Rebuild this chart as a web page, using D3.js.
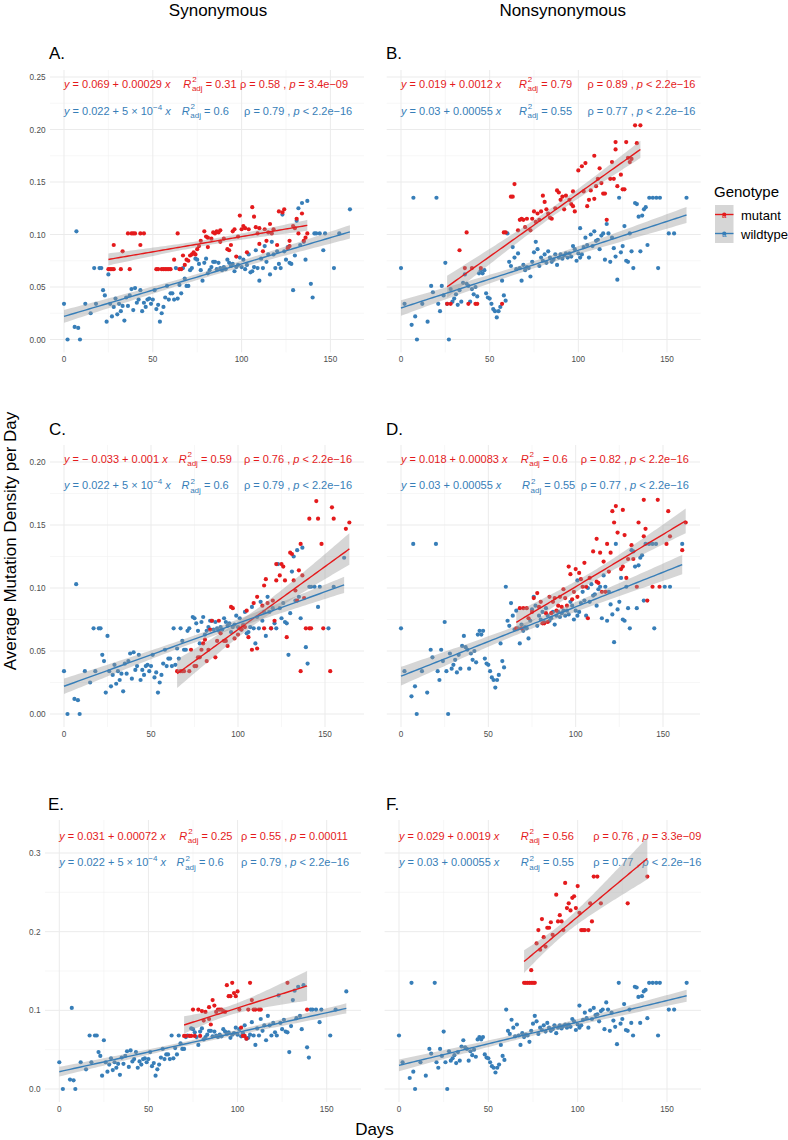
<!DOCTYPE html>
<html><head><meta charset="utf-8">
<script src="https://cdn.jsdelivr.net/npm/d3@7"></script>
<style>body{margin:0;background:#fff} text{font-family:"Liberation Sans",Arial,Helvetica,sans-serif}</style>
</head><body><svg id="c" width="788" height="1140"></svg>
<script>
// ---------------- DATA ----------------
const panelIds = ["A.","B.","C.","D.","E.","F."];
const columnTitles = ["Synonymous","Nonsynonymous"];
const genotypes = ["mutant","wildtype"];
const xTicks = [0,50,100,150];
const xTickLabels = ["0","50","100","150"];
const yTicksRow1 = [0,0.05,0.10,0.15,0.20,0.25];
const yTickLabelsRow1 = ["0.00","0.05","0.10","0.15","0.20","0.25"];
const yTicksRow2 = [0,0.05,0.10,0.15,0.20];
const yTickLabelsRow2 = ["0.00","0.05","0.10","0.15","0.20"];
const yTicksRow3 = [0,0.1,0.2,0.3];
const yTickLabelsRow3 = ["0.0","0.1","0.2","0.3"];

const synWildtype = [[0,0.034],[2,0],[6,0.012],[7,0.103],[8,0.011],[9,0],[12,0.034],[15,0.025],[17,0.068],[18,0.034],[20,0.068],[21,0.068],[22,0.047],[23,0.042],[24,0.017],[25,0.062],[26,0.034],[27,0.022],[28,0.031],[29,0.039],[30,0.024],[31,0.034],[32,0.027],[33,0.032],[34,0.018],[35,0.040],[36,0.032],[37,0.042],[38,0.048],[39,0.028],[40,0.049],[41,0.035],[42,0.038],[43,0.047],[44,0.027],[45,0.035],[46,0.031],[47,0.038],[48,0.039],[49,0.034],[50,0.038],[51,0.047],[52,0.029],[53,0.033],[54,0.017],[55,0.025],[56,0.031],[57,0.040],[58,0.051],[59,0.038],[60,0.044],[61,0.044],[62,0.038],[63,0.068],[64,0.039],[65,0.052],[66,0.044],[67,0.068],[68,0.058],[69,0.051],[70,0.051],[71,0.066],[72,0.068],[74,0.077],[75,0.076],[76,0.072],[77,0.066],[78,0.056],[79,0.073],[80,0.077],[81,0.063],[82,0.066],[83,0.069],[84,0.074],[85,0.074],[86,0.067],[87,0.073],[88,0.068],[89,0.066],[90,0.069],[91,0.067],[92,0.076],[93,0.073],[94,0.070],[95,0.072],[96,0.065],[97,0.069],[98,0.071],[99,0.078],[100,0.069],[101,0.076],[102,0.067],[103,0.071],[104,0.081],[105,0.064],[106,0.065],[107,0.069],[108,0.085],[109,0.068],[110,0.056],[111,0.077],[112,0.068],[113,0.089],[114,0.074],[115,0.081],[116,0.062],[117,0.093],[118,0.081],[119,0.068],[120,0.084],[121,0.072],[122,0.068],[123,0.119],[124,0.084],[125,0.076],[126,0.088],[127,0.073],[128,0.072],[129,0.047],[130,0.080],[131,0.113],[132,0.125],[133,0.090],[134,0.130],[135,0.093],[136,0.076],[137,0.132],[139,0.053],[140,0.040],[141,0.101],[142,0.101],[144,0.101],[146,0.085],[147,0.101],[152,0.068],[155,0.101],[161,0.124]];

const nonsynWildtype = [[0,0.068],[2,0.034],[6,0.014],[7,0.135],[8,0.022],[9,0],[12,0.034],[15,0.017],[17,0.051],[18,0.045],[20,0.135],[21,0.034],[22,0.027],[23,0.051],[24,0.042],[25,0.073],[26,0.034],[27,0],[28,0.048],[29,0.036],[30,0.039],[31,0.043],[32,0.033],[33,0.047],[34,0.036],[35,0.054],[36,0.062],[37,0.053],[38,0.051],[39,0.036],[40,0.048],[41,0.043],[42,0.050],[43,0.041],[44,0.063],[45,0.066],[46,0.063],[47,0.066],[48,0.044],[49,0.040],[50,0.039],[51,0.034],[52,0.029],[53,0.027],[54,0.021],[55,0.027],[56,0.031],[57,0.056],[58,0.042],[59,0.037],[60,0.101],[61,0.074],[62,0.070],[63,0.088],[64,0.078],[65,0.067],[66,0.082],[67,0.068],[68,0.056],[69,0.071],[70,0.066],[71,0.069],[72,0.068],[73,0.060],[74,0.074],[75,0.083],[76,0.093],[77,0.086],[78,0.070],[79,0.078],[80,0.075],[81,0.081],[82,0.073],[83,0.084],[84,0.078],[85,0.074],[86,0.076],[87,0.081],[88,0.071],[89,0.078],[90,0.081],[91,0.077],[92,0.080],[93,0.082],[94,0.078],[95,0.082],[96,0.079],[97,0.089],[98,0.086],[99,0.075],[100,0.082],[101,0.106],[101,0.078],[102,0.081],[103,0.088],[104,0.097],[105,0.090],[106,0.078],[107,0.100],[108,0.089],[109,0.103],[110,0.094],[111,0.095],[112,0.086],[113,0.099],[114,0.101],[115,0.076],[116,0.110],[117,0.101],[118,0.074],[119,0.097],[120,0.087],[121,0.079],[122,0.057],[123,0.135],[124,0.083],[125,0.089],[126,0.108],[127,0.075],[128,0.074],[129,0.101],[130,0.084],[131,0.068],[132,0.130],[133,0.129],[134,0.117],[135,0.084],[136,0.118],[137,0.124],[138,0.126],[139,0.090],[140,0.135],[142,0.135],[144,0.135],[145,0.068],[146,0.135],[151,0.101],[154,0.101],[161,0.135]];

const mutantA = [[25,0.067],[26,0.067],[27,0.067],[28,0.090],[28,0.067],[32,0.067],[33,0.084],[36,0.101],[37,0.067],[38,0.101],[39,0.101],[40,0.101],[43,0.090],[43,0.101],[45,0.101],[52,0.067],[53,0.067],[55,0.067],[56,0.067],[57,0.067],[58,0.067],[59,0.067],[60,0.067],[62,0.076],[64,0.101],[65,0.067],[66,0.067],[67,0.080],[68,0.071],[69,0.076],[70,0.075],[71,0.080],[72,0.081],[73,0.083],[74,0.081],[75,0.086],[76,0.089],[77,0.094],[79,0.103],[80,0.098],[81,0.097],[81,0.088],[83,0.096],[84,0.102],[85,0.101],[86,0.103],[87,0.102],[88,0.104],[88,0.093],[90,0.096],[92,0.086],[93,0.085],[94,0.090],[95,0.103],[96,0.105],[97,0.079],[98,0.098],[99,0.118],[100,0.105],[101,0.108],[102,0.106],[103,0.083],[104,0.105],[106,0.126],[107,0.117],[108,0.107],[109,0.101],[110,0.106],[110,0.091],[112,0.084],[113,0.105],[114,0.094],[115,0.102],[116,0.110],[117,0.101],[118,0.105],[120,0.090],[121,0.122],[123,0.121],[124,0.124],[126,0.087],[127,0.089],[127,0.094],[129,0.108],[130,0.106],[131,0.115],[132,0.101],[134,0.120],[135,0.094],[136,0.097],[137,0.101]];

const mutantB = [[26,0.034],[28,0.034],[33,0.085],[36,0.068],[37,0.102],[38,0.034],[40,0.068],[42,0.034],[43,0.034],[45,0.068],[57,0.034],[58,0.102],[59,0.102],[62,0.136],[63,0.136],[64,0.148],[66,0.104],[67,0.114],[68,0.115],[69,0.114],[70,0.107],[71,0.115],[73,0.104],[74,0.115],[75,0.122],[76,0.112],[77,0.120],[78,0.114],[79,0.122],[80,0.137],[81,0.131],[82,0.124],[83,0.120],[84,0.116],[85,0.115],[87,0.125],[88,0.142],[89,0.140],[90,0.133],[91,0.136],[92,0.124],[93,0.137],[95,0.133],[96,0.129],[97,0.127],[97,0.141],[98,0.122],[100,0.161],[102,0.165],[103,0.141],[104,0.168],[105,0.127],[106,0.133],[107,0.142],[109,0.134],[109,0.175],[110,0.146],[111,0.153],[112,0.163],[113,0.149],[114,0.139],[115,0.139],[116,0.114],[118,0.153],[119,0.169],[120,0.153],[121,0.181],[121,0.188],[122,0.146],[124,0.157],[125,0.143],[126,0.143],[127,0.188],[128,0.173],[129,0.169],[130,0.172],[132,0.204],[133,0.187],[135,0.204]];

const mutantC = [[65,0.034],[67,0.034],[68,0.034],[69,0.034],[72,0.034],[73,0.051],[75,0.038],[76,0.038],[77,0.045],[78,0.045],[79,0.051],[80,0.056],[81,0.059],[82,0.042],[83,0.051],[84,0.067],[85,0.074],[87,0.045],[88,0.058],[89,0.074],[90,0.064],[92,0.058],[93,0.058],[94,0.054],[96,0.085],[97,0.084],[98,0.060],[100,0.063],[101,0.068],[102,0.067],[103,0.070],[104,0.069],[105,0.082],[106,0.061],[108,0.051],[109,0.088],[111,0.052],[111,0.093],[114,0.086],[115,0.068],[115,0.102],[116,0.107],[117,0.088],[119,0.068],[120,0.090],[121,0.074],[122,0.119],[122,0.106],[124,0.110],[125,0.119],[126,0.117],[127,0.106],[128,0.061],[130,0.128],[131,0.127],[132,0.106],[133,0.098],[134,0.090],[135,0.114],[136,0.034],[136,0.135],[137,0.110],[138,0.092],[139,0.068],[141,0.068],[142,0.068],[148,0.135],[149,0.068],[153,0.034],[141,0.155],[145,0.169],[146,0.155],[154,0.164],[155,0.155],[162,0.147],[164,0.152]];

const mutantD = [[66,0.068],[68,0.084],[69,0.068],[70,0.084],[72,0.084],[73,0.076],[75,0.081],[76,0.092],[78,0.096],[79,0.085],[80,0.089],[81,0.072],[82,0.072],[83,0.080],[84,0.073],[85,0.093],[86,0.080],[87,0.089],[88,0.092],[89,0.082],[90,0.086],[91,0.093],[92,0.085],[93,0.099],[94,0.092],[95,0.086],[96,0.117],[97,0.111],[98,0.091],[99,0.097],[100,0.115],[101,0.093],[102,0.112],[103,0.107],[104,0.101],[105,0.120],[106,0.101],[107,0.076],[108,0.108],[110,0.129],[112,0.139],[112,0.105],[113,0.104],[114,0.128],[115,0.097],[116,0.121],[117,0.097],[118,0.135],[119,0.113],[120,0.128],[121,0.161],[122,0.152],[123,0.165],[124,0.144],[126,0.115],[127,0.117],[127,0.162],[128,0.142],[129,0.108],[130,0.123],[132,0.134],[133,0.123],[135,0.101],[136,0.152],[139,0.170],[139,0.141],[140,0.147],[141,0.090],[144,0.101],[147,0.170],[148,0.101],[152,0.135],[153,0.161],[154,0.141],[161,0.130],[163,0.152]];

const mutantE = [[70,0.0675],[71,0.0675],[73,0.0675],[74,0.0675],[75,0.101],[76,0.0675],[78,0.101],[79,0.0675],[80,0.099],[81,0.087],[82,0.098],[84,0.089],[84,0.104],[85,0.082],[86,0.113],[87,0.106],[88,0.098],[89,0.101],[90,0.101],[91,0.101],[92,0.099],[93,0.098],[94,0.132],[95,0.118],[96,0.118],[97,0.135],[98,0.122],[99,0.118],[100,0.124],[101,0.101],[102,0.078],[103,0.0675],[104,0.0675],[105,0.064],[106,0.101],[107,0.135],[108,0.113],[109,0.101],[110,0.101],[112,0.101],[113,0.101],[128,0.135],[139,0.101]];

const mutantF = [[70,0.135],[71,0.135],[72,0.135],[73,0.135],[74,0.135],[75,0.135],[76,0.135],[74,0.151],[77,0.185],[79,0.177],[82,0.181],[78,0.202],[80,0.216],[81,0.193],[83,0.205],[84,0.205],[85,0.212],[86,0.196],[88,0.247],[89,0.213],[90,0.221],[91,0.213],[92,0.202],[93,0.262],[94,0.230],[95,0.236],[96,0.227],[97,0.243],[98,0.245],[99,0.230],[100,0.258],[101,0.224],[102,0.202],[103,0.202],[104,0.202],[106,0.202],[107,0.236],[108,0.213],[109,0.270],[111,0.270],[113,0.236],[128,0.236],[139,0.270]];

const mutantData = [mutantA, mutantB, mutantC, mutantD, mutantE, mutantF];
const wildData = [synWildtype, nonsynWildtype, synWildtype, nonsynWildtype, synWildtype, nonsynWildtype];

// fitted coefficients printed in the chart
const mutantIntercept = [0.069, 0.019, -0.033, 0.018, 0.031, 0.029];
const mutantSlope = [0.00029, 0.0012, 0.001, 0.00083, 0.00072, 0.0019];
const wildIntercept = [0.022, 0.03, 0.022, 0.03, 0.022, 0.03];
const wildSlope = [0.0005, 0.00055, 0.0005, 0.00055, 0.0005, 0.00055];

// label texts
const mutantEqText = ["0.069 + 0.00029","0.019 + 0.0012","− 0.033 + 0.001","0.018 + 0.00083","0.031 + 0.00072","0.029 + 0.0019"];
const mutantEqExp = ["","","","","",""];
const wildEqText = ["0.022 + 5 × 10","0.03 + 0.00055","0.022 + 5 × 10","0.03 + 0.00055","0.022 + 5 × 10","0.03 + 0.00055"];
const wildEqExp = ["−4","","−4","","−4",""];
const mutantR2 = ["0.31","0.79","0.59","0.6","0.25","0.56"];
const wildR2 = ["0.6","0.55","0.6","0.55","0.6","0.55"];
const mutantRho = ["0.58","0.89","0.76","0.82","0.55","0.76"];
const wildRho = ["0.79","0.77","0.79","0.77","0.79","0.77"];
const mutantP = ["= 3.4e−09","< 2.2e−16","< 2.2e−16","< 2.2e−16","= 0.00011","= 3.3e−09"];
const wildP = ["< 2.2e−16","< 2.2e−16","< 2.2e−16","< 2.2e−16","< 2.2e−16","< 2.2e−16"];
// label anchor positions (data units: days / density)
const mutantLabelY = [0.2395, 0.2395, 0.1994, 0.1994, 0.3169, 0.3169];
const wildLabelY = [0.2138, 0.2138, 0.1783, 0.1783, 0.283, 0.283];
const mutantR2X = [67.2, 66.5, 65.9, 68.5, 67.3, 68.1];
const wildR2X = [66.3, 66.5, 67.6, 69.3, 65.8, 68.1];
const mutantCorX = [99.1, 105.1, 103.4, 102.9, 101.9, 108.7];
const wildCorX = [101.4, 105.1, 103.4, 102.9, 101.9, 108.7];

// ---------------- LAYOUT ----------------
const RED = "#E41A1C", BLUE = "#377EB8";
const layout = [
  {x0:64,   x150:330.4, left:50,    right:364,   y0:339.5, yv:0.25, yp:77,  top:70,  bottom:352.4, ticks:yTicksRow1, tl:yTickLabelsRow1, minor:0.025, lab:[49,59]},
  {x0:401,  x150:667,   left:386.7, right:700.7, y0:339.5, yv:0.25, yp:77,  top:70,  bottom:352.4, ticks:yTicksRow1, tl:null, minor:0.025, lab:[386,59]},
  {x0:64,   x150:325,   left:50,    right:364,   y0:714,   yv:0.2,  yp:462, top:445, bottom:727,   ticks:yTicksRow2, tl:yTickLabelsRow2, minor:0.025, lab:[49,435]},
  {x0:401,  x150:663,   left:386.8, right:700,   y0:714,   yv:0.2,  yp:462, top:445, bottom:727,   ticks:yTicksRow2, tl:null, minor:0.025, lab:[386,435]},
  {x0:59.3, x150:326.7, left:45,    right:361,   y0:1089,  yv:0.3,  yp:853, top:820, bottom:1102,  ticks:yTicksRow3, tl:yTickLabelsRow3, minor:0.05, lab:[48,810]},
  {x0:399,  x150:667,   left:384.6, right:701,   y0:1089,  yv:0.3,  yp:853, top:820, bottom:1102,  ticks:yTicksRow3, tl:null, minor:0.05, lab:[386,810]}
];

const svg = d3.select("#c");
svg.append("rect").attr("width",788).attr("height",1140).attr("fill","#fff");

function tq(df){ return 1.95996 + 2.3722/df + 2.8224/(df*df); }
function band(data, a, b){
  const n = data.length, xs = data.map(d=>d[0]);
  const xbar = d3.mean(xs), sxx = d3.sum(xs, x=>(x-xbar)**2);
  const sse = d3.sum(data, d => (d[1]-(a+b*d[0]))**2);
  const s = Math.sqrt(sse/(n-2)), t = tq(n-2);
  const [lo,hi] = d3.extent(xs);
  return d3.range(0,81).map(i => {
    const x = lo + (hi-lo)*i/80, f = a+b*x;
    const se = s*Math.sqrt(1/n + (x-xbar)**2/sxx);
    return {x, f, lo:f-t*se, hi:f+t*se};
  });
}

function drawSegs(g, x, y, segs, color){
  let cx = x;
  segs.forEach(s => {
    if (s.stack){
      const r = g.append("text").attr("x",cx).attr("y",y).attr("font-size",11).attr("font-style","italic").attr("fill",color).text("R");
      cx += r.node().getComputedTextLength() + 0.6;
      const a = g.append("text").attr("x",cx+0.3).attr("y",y-5.6).attr("font-size",8).attr("fill",color).text("2");
      const b = g.append("text").attr("x",cx).attr("y",y+3.2).attr("font-size",8).attr("fill",color).text("adj");
      cx += Math.max(a.node().getComputedTextLength(), b.node().getComputedTextLength());
    } else if (s.sup){
      const a = g.append("text").attr("x",cx).attr("y",y-5).attr("font-size",8).attr("fill",color).text(s.t);
      cx += a.node().getComputedTextLength();
    } else {
      const t = g.append("text").attr("x",cx).attr("y",y).attr("font-size",11).attr("fill",color)
        .attr("font-style", s.i ? "italic" : null).style("white-space","pre").text(s.t);
      cx += t.node().getComputedTextLength();
    }
  });
}

// column titles
svg.append("text").attr("x",218).attr("y",15.5).attr("text-anchor","middle").attr("font-size",17).attr("fill","#000").text(columnTitles[0]);
svg.append("text").attr("x",562.7).attr("y",15.5).attr("text-anchor","middle").attr("font-size",17).attr("fill","#000").text(columnTitles[1]);

layout.forEach((L, k) => {
  const g = svg.append("g");
  const x = d3.scaleLinear().domain([0,150]).range([L.x0, L.x150]);
  const y = d3.scaleLinear().domain([0,L.yv]).range([L.y0, L.yp]);
  const xmin = x.invert(L.left), xmax = x.invert(L.right);
  const ymin = y.invert(L.bottom), ymax = y.invert(L.top);
  // minor grid
  const xMinor = d3.range(-25, 200, 50).filter(v => v > xmin && v < xmax);
  const yMinor = d3.range(-L.minor, ymax, 2*L.minor).filter(v => v > ymin && v < ymax);
  g.selectAll(".xm").data(xMinor).join("line").attr("x1",d=>x(d)).attr("x2",d=>x(d)).attr("y1",L.top).attr("y2",L.bottom).attr("stroke","#F2F2F2").attr("stroke-width",0.6);
  g.selectAll(".ym").data(yMinor).join("line").attr("x1",L.left).attr("x2",L.right).attr("y1",d=>y(d)).attr("y2",d=>y(d)).attr("stroke","#F2F2F2").attr("stroke-width",0.6);
  // major grid
  g.selectAll(".xM").data(xTicks).join("line").attr("x1",d=>x(d)).attr("x2",d=>x(d)).attr("y1",L.top).attr("y2",L.bottom).attr("stroke","#EBEBEB").attr("stroke-width",1);
  g.selectAll(".yM").data(L.ticks).join("line").attr("x1",L.left).attr("x2",L.right).attr("y1",d=>y(d)).attr("y2",d=>y(d)).attr("stroke","#EBEBEB").attr("stroke-width",1);
  // tick labels
  g.selectAll(".xt").data(xTicks).join("text").attr("x",d=>x(d)).attr("y",L.bottom+10).attr("text-anchor","middle").attr("font-size",8.2).attr("fill","#4D4D4D").text((d,i)=>xTickLabels[i]);
  if (L.tl) g.selectAll(".yt").data(L.ticks).join("text").attr("x",L.left-4.5).attr("y",d=>y(d)+3).attr("text-anchor","end").attr("font-size",8.2).attr("fill","#4D4D4D").text((d,i)=>L.tl[i]);
  // panel letter
  svg.append("text").attr("x",L.lab[0]).attr("y",L.lab[1]).attr("font-size",17).attr("fill","#000").text(panelIds[k]);
  // points
  g.selectAll(".pw").data(wildData[k]).join("circle").attr("cx",d=>x(d[0])).attr("cy",d=>y(d[1])).attr("r",2.1).attr("fill",BLUE);
  g.selectAll(".pm").data(mutantData[k]).join("circle").attr("cx",d=>x(d[0])).attr("cy",d=>y(d[1])).attr("r",2.1).attr("fill",RED);
  // labels
  const segsM = [{t:"y",i:true},{t:" = "+mutantEqText[k]+" "}];
  if (mutantEqExp[k]) segsM.push({t:mutantEqExp[k],sup:true},{t:" "});
  segsM.push({t:"x",i:true});
  drawSegs(g, x(0), y(mutantLabelY[k]), segsM, RED);
  drawSegs(g, x(mutantR2X[k]), y(mutantLabelY[k]), [{stack:true},{t:" = "+mutantR2[k]}], RED);
  drawSegs(g, x(mutantCorX[k]), y(mutantLabelY[k]), [{t:"ρ = "+mutantRho[k]+" , "},{t:"p",i:true},{t:" "+mutantP[k]}], RED);
  const segsW = [{t:"y",i:true},{t:" = "+wildEqText[k]}];
  if (wildEqExp[k]) segsW.push({t:wildEqExp[k],sup:true},{t:" "}); else segsW.push({t:" "});
  segsW.push({t:"x",i:true});
  drawSegs(g, x(0), y(wildLabelY[k]), segsW, BLUE);
  drawSegs(g, x(wildR2X[k]), y(wildLabelY[k]), [{stack:true},{t:" = "+wildR2[k]}], BLUE);
  drawSegs(g, x(wildCorX[k]), y(wildLabelY[k]), [{t:"ρ = "+wildRho[k]+" , "},{t:"p",i:true},{t:" "+wildP[k]}], BLUE);
  // smooth
  [[mutantData[k], mutantIntercept[k], mutantSlope[k], RED],[wildData[k], wildIntercept[k], wildSlope[k], BLUE]].forEach(([data,a,b,col]) => {
    const bd = band(data,a,b);
    g.append("path").datum(bd).attr("d", d3.area().x(d=>x(d.x)).y0(d=>y(d.lo)).y1(d=>y(d.hi))).attr("fill","#999999").attr("fill-opacity",0.4);
    g.append("path").datum(bd).attr("d", d3.line().x(d=>x(d.x)).y(d=>y(d.f))).attr("fill","none").attr("stroke",col).attr("stroke-width",1.4);
  });
});

// axis titles
svg.append("text").attr("transform","translate(16,541) rotate(-90)").attr("text-anchor","middle").attr("font-size",17).attr("fill","#000").text("Average Mutation Density per Day");
svg.append("text").attr("x",374.5).attr("y",1135).attr("text-anchor","middle").attr("font-size",17).attr("fill","#000").text("Days");

// legend
const lg = svg.append("g");
lg.append("text").attr("x",714).attr("y",197).attr("font-size",15).attr("fill","#000").text("Genotype");
[RED, BLUE].forEach((col,i) => {
  const ky = 205 + i*19;
  lg.append("rect").attr("x",715).attr("y",ky).attr("width",18.5).attr("height",19).attr("fill","#999999").attr("fill-opacity",0.4);
  lg.append("line").attr("x1",715).attr("x2",733.5).attr("y1",ky+9.5).attr("y2",ky+9.5).attr("stroke",col).attr("stroke-width",1.4);
  lg.append("circle").attr("cx",724.25).attr("cy",ky+9.5).attr("r",2.1).attr("fill",col);
  lg.append("text").attr("x",724.25).attr("y",ky+13).attr("text-anchor","middle").attr("font-size",8).attr("fill",col).text("a");
  lg.append("text").attr("x",741).attr("y",ky+14.5).attr("font-size",13).attr("fill","#000").text(genotypes[i]);
});
</script></body></html>
